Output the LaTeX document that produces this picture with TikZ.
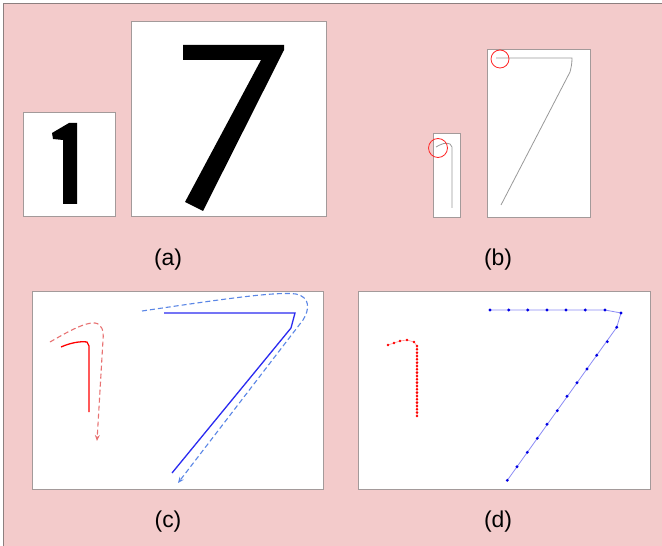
\documentclass[tikz,border=0pt]{standalone}
\usepackage{fontspec}
\setmainfont{Liberation Sans}
\usetikzlibrary{arrows.meta}
\definecolor{pinkbg}{HTML}{F3CBCB}
\definecolor{frameline}{HTML}{8C7F7F}
\definecolor{boxline}{HTML}{A39A9A}
\definecolor{skelgray}{HTML}{999999}
\definecolor{strokeblue}{HTML}{2A2AF0}
\definecolor{pathblue}{HTML}{5A86E6}
\definecolor{pathred}{HTML}{E87272}
\definecolor{ptline}{HTML}{8C8CF5}

\begin{document}
\begin{tikzpicture}[
  x=1bp, y=-1bp,
  panel/.style={draw=boxline, fill=white, line width=0.8bp},
  glyph/.style={fill=black, draw=none},
  skel/.style={draw=skelgray, line width=0.8bp},
  startring/.style={draw=red!85, line width=0.8bp},
  tag/.style={font=\fontsize{23}{26}\selectfont, inner sep=0pt},
  arrow/.style={-{Stealth[length=6bp, width=5bp]}},
  ptred/.style={fill=red, draw=none},
  ptblue/.style={fill=blue!90!black, draw=none},
]
\useasboundingbox (0,0) rectangle (662,546);
% background
\fill[pinkbg] (4,4) rectangle (662,546);
\draw[frameline, line width=1bp] (3.5,546) -- (3.5,3.5) -- (662,3.5);

% (a) — the two images
\draw[panel] (23,112) rectangle (115,216);
\draw[panel] (131,21) rectangle (326,216);
\fill[glyph] (52,133) -- (69,123) -- (77,123) -- (77,204) -- (63,204)
  -- (63,140) -- (53,139) -- cycle;
\fill[glyph] (183,45) -- (284,45) -- (284,50) -- (203,211) -- (185,202)
  -- (261,60) -- (183,60) -- cycle;
\node[tag] (lbla) at (168,260) {(a)};

% (b) — skeletons with start points
\draw[panel] (433,133) rectangle (460,217);
\draw[panel] (487,49) rectangle (590,217);
\draw[skel] (436,147) .. controls (441,144) and (446,142) .. (450,144)
  -- (452,147) -- (452,208);
\draw[skel] (496,58) -- (572,58) .. controls (572,64) and (571,68) .. (570,72)
  -- (501,205);
\draw[startring] (438,148) circle (9.5);
\draw[startring] (500,59) circle (9);
\node[tag] (lblb) at (498,260) {(b)};

% (c) — stroke order
\draw[panel] (32,291) rectangle (323,489);
\draw[red, line width=1.3bp] (61,347) .. controls (70,343) and (80,341) .. (87,342)
  -- (89,346) -- (89,412);
\draw[pathred, line width=1.1bp, dash pattern=on 5bp off 3bp, arrow]
  (50,342) .. controls (64,334) and (84,322) .. (95,323)
  .. controls (102,324) and (104,331) .. (103,340) -- (97,441);
\draw[strokeblue, line width=1.3bp] (164,313) -- (295,313) -- (291,328) -- (172,473);
\draw[pathblue, line width=1.1bp, dash pattern=on 5bp off 3bp, arrow]
  (142,311) .. controls (210,301) and (276,291) .. (296,294)
  .. controls (310,297) and (310,309) .. (303,320) -- (178,483);
\node[tag] (lblc) at (168,522) {(c)};

% (d) — sampled points
\draw[panel] (358,291) rectangle (650,489);
\draw[red!40, line width=0.6bp] (388,345) -- (394,343) -- (400,341) -- (407,340)
  -- (414,342) -- (417,346) -- (417,416);
\foreach \px/\py in {388/345, 394/343, 400/341, 407/340, 414/342}
  \fill[ptred] (\px,\py) circle (1.4);
\foreach \i in {0,...,21}
  \fill[ptred] (417,346+\i*3.33) circle (1.4);
\draw[ptline, line width=0.8bp] (490,310) -- (605,310) -- (621,313) -- (616.7,327.3)
  -- (507.3,480.3);
\foreach \px/\py in {490/310, 508.7/310, 527.7/310, 547/310, 566/310, 585.3/310,
  605/310, 621/313, 616.7/327.3, 607.3/341.7, 596.7/355.3, 587/369, 577/382.7,
  567/396.3, 557.3/410.7, 547/424.3, 537.3/438.3, 527.3/452.3, 517/466.7,
  507.3/480.3}
  \fill[ptblue] (\px,\py) circle (1.6);
\node[tag] (lbld) at (498,522) {(d)};
\end{tikzpicture}
\end{document}
